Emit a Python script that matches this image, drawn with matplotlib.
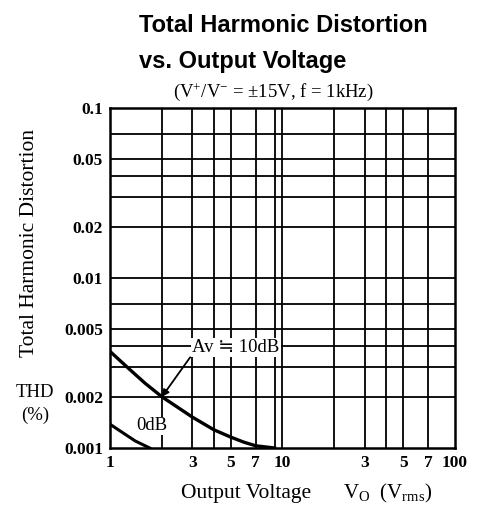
import matplotlib
matplotlib.use("Agg")
import matplotlib.pyplot as plt
from matplotlib.ticker import FixedLocator, NullLocator

plt.rcParams['font.family'] = ['Liberation Serif', 'DejaVu Serif']
plt.rcParams['mathtext.fontset'] = 'custom'
plt.rcParams['mathtext.rm'] = 'Liberation Serif'
plt.rcParams['mathtext.it'] = 'Liberation Serif:italic'

# curves
vo_10db = [1.0, 1.3, 1.6, 2.0, 2.5, 3.0, 4.0, 5.0, 6.0, 7.0, 9.0]
thd_10db = [0.0037, 0.0029, 0.0024, 0.0020, 0.00172, 0.00152, 0.00128, 0.00116, 0.00108, 0.00103, 0.0010]
vo_0db = [1.0, 1.2, 1.4, 1.7]
thd_0db = [0.00138, 0.00122, 0.0011, 0.0010]

# grid and tick values
x_grid = [2, 3, 4, 5, 7, 9, 10, 20, 30, 40, 50, 70]
y_grid = [0.002, 0.003, 0.004, 0.005, 0.007, 0.01, 0.02, 0.03, 0.04, 0.05, 0.07]
x_ticks = [1, 3, 5, 7, 10, 30, 50, 70, 100]
x_labels = ['1', '3', '5', '7', '10', '3', '5', '7', '100']
y_ticks = [0.001, 0.002, 0.005, 0.01, 0.02, 0.05, 0.1]
y_labels = ['0.001', '0.002', '0.005', '0.01', '0.02', '0.05', '0.1']

fig = plt.figure(figsize=(4.79, 5.05), dpi=100)
ax = fig.add_axes([0.2296, 0.1129, 0.7203, 0.6733])
ax.set_xscale('log')
ax.set_yscale('log')
ax.set_xlim(1, 100)
ax.set_ylim(0.001, 0.1)

for xv in x_grid:
    ax.axvline(xv, color='black', lw=1.3, zorder=1)
for yv in y_grid:
    ax.axhline(yv, color='black', lw=1.3, zorder=1)

ax.plot(vo_10db, thd_10db, color='black', lw=2.4, zorder=3)
ax.plot(vo_0db, thd_0db, color='black', lw=2.2, zorder=3)

ax.xaxis.set_major_locator(FixedLocator(x_ticks))
ax.xaxis.set_minor_locator(NullLocator())
ax.set_xticklabels(x_labels)
ax.yaxis.set_major_locator(FixedLocator(y_ticks))
ax.yaxis.set_minor_locator(NullLocator())
ax.set_yticklabels(y_labels)
ax.tick_params(length=0, labelsize=12.5, pad=5)
for lab in ax.get_xticklabels() + ax.get_yticklabels():
    lab.set_fontweight('bold')
for sp in ax.spines.values():
    sp.set_linewidth(1.8)

ax.annotate('Av ≒ 10dB', xy=(2.0, 0.002), xytext=(3.0, 0.0039),
            fontsize=13.5, ha='left', va='center',
            family=['Liberation Serif', 'DejaVu Sans', 'Noto Sans CJK JP'],
            bbox=dict(facecolor='white', edgecolor='none', pad=1),
            arrowprops=dict(arrowstyle='-|>', color='black', lw=1.3,
                            relpos=(0.0, 0.1), shrinkA=1, shrinkB=0,
                            mutation_scale=10),
            zorder=4)
ax.text(1.75, 0.00135, '0dB', fontsize=13.5, ha='center', va='center',
        bbox=dict(facecolor='white', edgecolor='none', pad=0.5), zorder=4)

fig.text(0.29, 0.937, 'Total Harmonic Distortion', family='Liberation Sans',
         fontweight='bold', fontsize=17, ha='left', va='baseline')
fig.text(0.29, 0.866, 'vs. Output Voltage', family='Liberation Sans',
         fontweight='bold', fontsize=17, ha='left', va='baseline')
fig.text(0.57, 0.818, r'(V$^{+}$/V$^{-}$ = ±15V, f = 1kHz)', fontsize=13.5,
         ha='center', va='center')

fig.text(0.061, 0.519, 'Total Harmonic Distortion', rotation=90, fontsize=15.5,
         ha='center', va='center')
fig.text(0.073, 0.222, 'THD', fontsize=13.5, ha='center', va='center')
fig.text(0.073, 0.178, '(%)', fontsize=13.5, ha='center', va='center')

fig.text(0.514, 0.022, 'Output Voltage', fontsize=15.5, ha='center', va='center')
fig.text(0.81, 0.022, r'V$_{\mathrm{O}}$  (V$_{\mathrm{rms}}$)', fontsize=15,
         ha='center', va='center')

fig.savefig('out.png', dpi=100)
